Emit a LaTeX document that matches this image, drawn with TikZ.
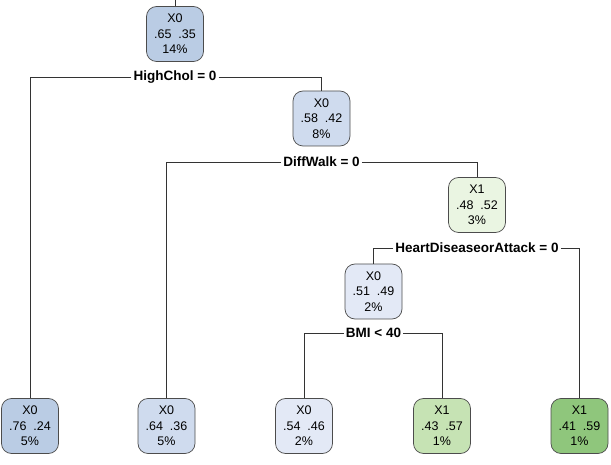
\documentclass[tikz,border=0pt]{standalone}
\usepackage{fontspec}
\setmainfont{Liberation Sans}
\begin{document}
\begin{tikzpicture}[x=1pt,y=-1pt,
  tnode/.style={draw=black!70, line width=0.7pt, rounded corners=10pt,
    minimum width=57pt, minimum height=55pt, align=center, inner sep=0pt,
    font=\fontsize{12.5}{15.5}\selectfont},
  split/.style={font=\fontsize{13.5}{15}\selectfont\bfseries, fill=white,
    inner xsep=2pt, inner ysep=1pt},
  edge/.style={draw=black!80, line width=0.8pt}]
\useasboundingbox (0,0) rectangle (611,465);
\definecolor{blueA}{HTML}{BACCE4}
\definecolor{blueB}{HTML}{CFDBEE}
\definecolor{blueC}{HTML}{E3E9F6}
\definecolor{greenA}{HTML}{EAF5E2}
\definecolor{greenB}{HTML}{C6E3B4}
\definecolor{greenC}{HTML}{8FC67C}

% internal nodes
\node[tnode, fill=blueA] (root) at (175,34) {X0\\.65\ \ .35\\14\%};
\node[tnode, fill=blueB] (n2) at (321.5,118.5) {X0\\.58\ \ .42\\8\%};
\node[tnode, fill=greenA] (n3) at (477,205) {X1\\.48\ \ .52\\3\%};
\node[tnode, fill=blueC] (n4) at (373.5,291.5) {X0\\.51\ \ .49\\2\%};

% leaves
\node[tnode, fill=blueA] (l1) at (30,426) {X0\\.76\ \ .24\\5\%};
\node[tnode, fill=blueB] (l2) at (166.5,426) {X0\\.64\ \ .36\\5\%};
\node[tnode, fill=blueC] (l3) at (304,426) {X0\\.54\ \ .46\\2\%};
\node[tnode, fill=greenB] (l4) at (442,426) {X1\\.43\ \ .57\\1\%};
\node[tnode, fill=greenC] (l5) at (579.5,426) {X1\\.41\ \ .59\\1\%};

% split labels
\node[split] (s1) at (175,77) {HighChol = 0};
\node[split] (s2) at (321.5,162) {DiffWalk = 0};
\node[split] (s3) at (477,248) {HeartDiseaseorAttack = 0};
\node[split] (s4) at (373.5,333) {BMI < 40};

\coordinate (top) at (175,0);

% connectors
\draw[edge] (root.north) -- (top);
\draw[edge] (s1.west) -| (l1.north);
\draw[edge] (s1.east) -| (n2.north);
\draw[edge] (s2.west) -| (l2.north);
\draw[edge] (s2.east) -| (n3.north);
\draw[edge] (s3.west) -| (n4.north);
\draw[edge] (s3.east) -| (l5.north);
\draw[edge] (s4.west) -| (l3.north);
\draw[edge] (s4.east) -| (l4.north);
\end{tikzpicture}
\end{document}
